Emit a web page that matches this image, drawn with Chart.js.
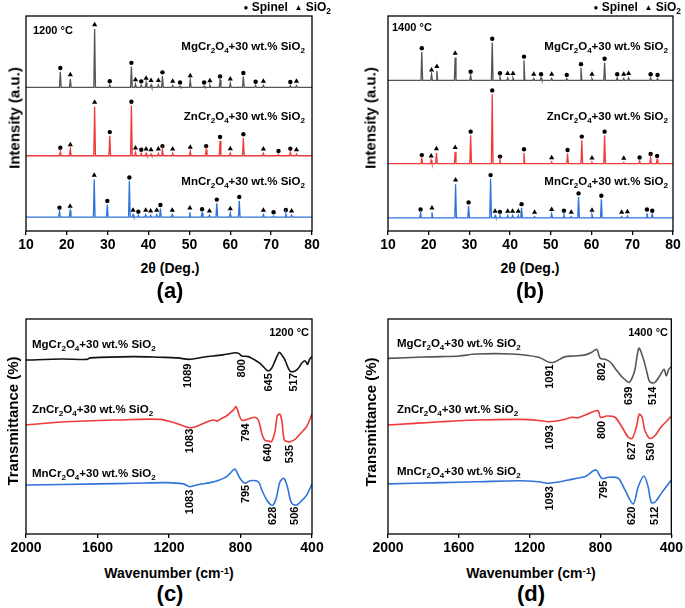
<!DOCTYPE html>
<html>
<head>
<meta charset="utf-8">
<script src="https://cdn.jsdelivr.net/npm/chart.js@4"></script>
<style>
  body { margin: 0; background: #fff; }
  #wrap { position: relative; width: 685px; height: 608px; overflow: hidden; font-family: "Liberation Sans", Arial, sans-serif; }
  canvas { position: absolute; }
  .t { position: absolute; font-weight: bold; font-size: 11.5px; white-space: nowrap; transform: translate(0, -50%); color: #000; line-height: 1; }
  .r { transform: translate(-100%, -50%); }
  .c { transform: translate(-50%, -50%); }
  .v { transform: translate(-50%, -50%) rotate(-90deg); font-size: 15px; }
  .ax { font-size: 14px; }
  .pn { font-size: 22px; }
  sub { font-size: 0.7em; vertical-align: -0.3em; line-height: 0; }
  sup { font-size: 0.7em; vertical-align: 0.45em; line-height: 0; }
  .mk { font-size: 8px; vertical-align: 0.15em; }
</style>
</head>
<body>
<div id="wrap">
  <canvas id="xrd1200" width="340" height="256" style="left:0;top:0"></canvas>
  <canvas id="xrd1400" width="345" height="256" style="left:340px;top:0"></canvas>
  <canvas id="ftir1200" width="340" height="256" style="left:0;top:300px"></canvas>
  <canvas id="ftir1400" width="345" height="256" style="left:340px;top:300px"></canvas>

  <!-- panel (a) -->
  <div class="t r" style="left:331px;top:7px;font-size:12px"><span class="mk">●</span> Spinel&nbsp;&nbsp;<span class="mk">▲</span> SiO<sub>2</sub></div>
  <div class="t" style="left:33px;top:30px;font-size:11px">1200 °C</div>
  <div class="t r" style="left:305px;top:47px">MgCr<sub>2</sub>O<sub>4</sub>+30 wt.% SiO<sub>2</sub></div>
  <div class="t r" style="left:305px;top:117px">ZnCr<sub>2</sub>O<sub>4</sub>+30 wt.% SiO<sub>2</sub></div>
  <div class="t r" style="left:305px;top:182px">MnCr<sub>2</sub>O<sub>4</sub>+30 wt.% SiO<sub>2</sub></div>
  <div class="t v" style="left:14px;top:118px">Intensity (a.u.)</div>
  <div class="t c ax" style="left:170px;top:268px">2θ (Deg.)</div>
  <div class="t c pn" style="left:170px;top:291px">(a)</div>

  <!-- panel (b) -->
  <div class="t r" style="left:681px;top:7px;font-size:12px"><span class="mk">●</span> Spinel&nbsp;&nbsp;<span class="mk">▲</span> SiO<sub>2</sub></div>
  <div class="t" style="left:392px;top:27px;font-size:11px">1400 °C</div>
  <div class="t r" style="left:668px;top:47px">MgCr<sub>2</sub>O<sub>4</sub>+30 wt.% SiO<sub>2</sub></div>
  <div class="t r" style="left:668px;top:117px">ZnCr<sub>2</sub>O<sub>4</sub>+30 wt.% SiO<sub>2</sub></div>
  <div class="t r" style="left:668px;top:182px">MnCr<sub>2</sub>O<sub>4</sub>+30 wt.% SiO<sub>2</sub></div>
  <div class="t v" style="left:370px;top:118px">Intensity (a.u.)</div>
  <div class="t c ax" style="left:530px;top:268px">2θ (Deg.)</div>
  <div class="t c pn" style="left:530px;top:291px">(b)</div>

  <!-- panel (c) -->
  <div class="t r" style="left:309px;top:332px;font-size:11px">1200 °C</div>
  <div class="t" style="left:32px;top:345px">MgCr<sub>2</sub>O<sub>4</sub>+30 wt.% SiO<sub>2</sub></div>
  <div class="t" style="left:32px;top:410px">ZnCr<sub>2</sub>O<sub>4</sub>+30 wt.% SiO<sub>2</sub></div>
  <div class="t" style="left:32px;top:474px">MnCr<sub>2</sub>O<sub>4</sub>+30 wt.% SiO<sub>2</sub></div>
  <div class="t v" style="left:12px;top:421px">Transmittance (%)</div>
  <div class="t c ax" style="left:169px;top:573px">Wavenumber (cm<sup>-1</sup>)</div>
  <div class="t c pn" style="left:170px;top:594px">(c)</div>

  <!-- panel (d) -->
  <div class="t r" style="left:668px;top:332px;font-size:11px">1400 °C</div>
  <div class="t" style="left:397px;top:344px">MgCr<sub>2</sub>O<sub>4</sub>+30 wt.% SiO<sub>2</sub></div>
  <div class="t" style="left:397px;top:410px">ZnCr<sub>2</sub>O<sub>4</sub>+30 wt.% SiO<sub>2</sub></div>
  <div class="t" style="left:397px;top:472px">MnCr<sub>2</sub>O<sub>4</sub>+30 wt.% SiO<sub>2</sub></div>
  <div class="t v" style="left:370px;top:422px">Transmittance (%)</div>
  <div class="t c ax" style="left:531px;top:573px">Wavenumber (cm<sup>-1</sup>)</div>
  <div class="t c pn" style="left:531px;top:594px">(d)</div>
</div>

<script>
// XRD peaks: [2theta, height above baseline, phase]  S = spinel, Q = SiO2
const xrd1200Mg = [[18.4,7.3,'S'],[20.85,3.9,'Q'],[26.8,27.1,'Q'],[30.5,1.2,'S'],[35.8,9.7,'S'],[36.8,1.6,'Q'],[38.2,1.1,'S'],[39.4,2.2,'Q'],[40.6,1.2,'Q'],[42.4,1.2,'Q'],[43.4,5.3,'S'],[45.9,0.9,'Q'],[47.7,0.6,'S'],[50.2,3.4,'Q'],[53.6,0.6,'S'],[55.0,1.1,'Q'],[57.5,3.4,'S'],[60.0,1.9,'Q'],[63.2,5.0,'S'],[66.2,0.9,'S'],[68.1,0.9,'Q'],[74.7,0.8,'S'],[76.2,0.8,'Q']];
const xrd1200Zn = [[18.4,2.0,'S'],[20.85,3.1,'Q'],[26.8,22.9,'Q'],[30.5,9.3,'S'],[35.8,23.4,'S'],[36.8,1.6,'Q'],[38.2,1.1,'S'],[39.4,1.1,'Q'],[40.6,0.8,'Q'],[42.4,1.1,'Q'],[43.4,2.8,'S'],[45.9,1.1,'Q'],[50.2,2.0,'Q'],[54.1,2.8,'S'],[57.5,7.0,'S'],[60.0,1.2,'Q'],[63.2,8.3,'S'],[68.1,1.1,'Q'],[71.8,0.5,'S'],[74.7,1.6,'S'],[76.2,0.8,'Q']];
const xrd1200Mn = [[18.2,2.6,'S'],[20.8,3.0,'Q'],[26.7,17.4,'Q'],[29.9,5.8,'S'],[35.3,16.7,'S'],[36.2,1.1,'Q'],[37.5,0.8,'S'],[39.3,1.1,'Q'],[40.5,0.8,'Q'],[42.0,1.1,'Q'],[42.9,3.9,'S'],[45.8,1.1,'Q'],[50.1,2.2,'Q'],[53.1,1.9,'S'],[54.9,0.8,'Q'],[56.7,6.4,'S'],[60.0,1.9,'Q'],[62.2,7.6,'S'],[68.1,1.1,'Q'],[70.6,0.5,'S'],[73.6,1.6,'S'],[75.0,0.8,'Q']];

const xrd1400Mg = [[18.3,13.2,'S'],[20.7,2.8,'Q'],[22.0,4.4,'Q'],[26.5,10.6,'Q'],[30.3,2.3,'S'],[35.6,17.6,'S'],[37.5,1.6,'S'],[39.4,1.1,'Q'],[40.7,1.1,'Q'],[43.4,9.3,'S'],[45.8,0.8,'Q'],[47.6,1.1,'S'],[50.2,0.8,'Q'],[53.9,0.8,'S'],[57.4,5.8,'S'],[60.1,0.8,'Q'],[63.2,8.3,'S'],[66.3,1.1,'S'],[67.9,0.8,'Q'],[69.1,1.1,'Q'],[74.5,1.1,'S'],[76.2,0.8,'S']];
const xrd1400Zn = [[18.3,2.3,'S'],[20.6,1.6,'Q'],[21.9,5.0,'Q'],[26.5,5.5,'Q'],[30.3,13.2,'S'],[35.6,32.4,'S'],[37.5,1.6,'S'],[43.4,5.0,'S'],[50.2,0.8,'Q'],[54.1,4.7,'S'],[57.6,10.9,'S'],[60.1,0.6,'Q'],[63.2,13.2,'S'],[67.9,0.5,'Q'],[71.8,1.2,'S'],[74.5,2.8,'S'],[76.1,1.9,'S']];
const xrd1400Mn = [[18.0,2.2,'S'],[20.8,2.6,'Q'],[26.6,15.6,'Q'],[29.8,5.5,'S'],[35.2,18.2,'S'],[36.3,1.1,'Q'],[37.5,1.1,'S'],[39.4,1.1,'Q'],[40.6,1.1,'Q'],[42.0,1.1,'Q'],[42.8,4.7,'S'],[46.0,0.6,'Q'],[50.2,1.9,'Q'],[53.2,1.6,'S'],[55.0,0.6,'Q'],[56.8,9.7,'S'],[60.1,1.6,'Q'],[62.4,8.6,'S'],[67.4,0.6,'Q'],[68.8,0.9,'Q'],[73.6,2.2,'S'],[74.9,1.6,'S']];

// FTIR spectra: [wavenumber, transmittance (offset, a.u.)]
const ftir1200Mg = [[2000,80.9],[1800,81.4],[1660,81.2],[1640,81.9],[1400,82.5],[1250,82.2],[1150,81.9],[1089,81.2],[1000,82.3],[900,83.3],[830,84.3],[810,84.0],[793,82.8],[756,82.5],[720,80.9],[691,79.4],[665,77.2],[645,75.8],[625,77.2],[605,80.9],[583,84.5],[565,82.8],[551,80.9],[530,76.7],[517,75.5],[495,75.8],[475,77.2],[458,79.4],[440,80.6],[430,79.5],[424,78.9],[413,81.3],[400,82.5]];
const ftir1200Zn = [[2000,50.7],[1800,52.1],[1500,53.0],[1250,53.3],[1150,51.2],[1083,49.4],[1027,50.7],[971,52.7],[950,53.0],[930,52.5],[915,53.3],[877,55.0],[840,57.7],[825,59.2],[803,54.3],[790,52.8],[775,53.0],[740,54.0],[719,54.3],[700,53.0],[681,46.8],[663,43.6],[640,43.2],[626,43.0],[607,47.7],[594,55.0],[579,55.7],[568,52.2],[555,43.7],[535,42.9],[523,42.9],[495,44.0],[467,46.5],[430,50.0],[400,55.8]];
const ftir1200Mn = [[2000,22.8],[1600,23.3],[1400,23.6],[1213,23.9],[1120,23.3],[1083,22.0],[1040,22.9],[971,23.9],[930,24.8],[877,26.7],[840,29.8],[829,30.1],[803,25.9],[775,23.6],[747,24.8],[700,24.3],[681,20.5],[653,15.8],[630,13.5],[617,13.5],[600,16.6],[579,24.3],[557,25.9],[538,22.0],[514,14.3],[486,13.5],[458,15.5],[430,18.1],[400,23.3]];

const ftir1400Mg = [[2000,81.7],[1800,82.3],[1700,82.5],[1600,82.8],[1500,83.7],[1300,83.7],[1150,82.2],[1091,79.9],[1060,80.0],[1000,82.5],[950,82.8],[886,83.3],[850,84.5],[821,85.9],[802,81.7],[774,81.3],[745,80.0],[718,77.1],[680,73.2],[639,70.5],[622,72.5],[606,76.3],[583,86.4],[559,81.7],[540,76.0],[522,70.8],[494,70.4],[466,73.5],[441,76.6],[428,73.5],[415,76.6],[400,77.8]];
const ftir1400Zn = [[2000,50.7],[1700,52.2],[1500,53.0],[1250,53.3],[1150,52.8],[1093,52.2],[1017,53.0],[961,54.3],[930,54.0],[886,55.3],[815,57.4],[800,54.3],[765,54.9],[718,54.3],[680,49.9],[643,45.0],[621,44.5],[597,49.9],[581,55.7],[565,54.3],[550,48.4],[522,44.5],[494,45.6],[457,49.9],[429,52.2],[400,54.9]];
const ftir1400Mn = [[2000,23.3],[1700,23.9],[1500,24.3],[1259,24.8],[1150,24.3],[1093,23.6],[979,25.1],[940,25.8],[886,26.7],[826,29.8],[793,25.9],[755,26.4],[699,25.9],[662,20.5],[615,14.0],[587,22.0],[555,27.0],[531,22.0],[513,14.6],[490,15.0],[457,18.9],[400,25.1]];

// band labels: [wavenumber, y, text]
const bands1200 = [[1092,73.6,'1089'],[790,77.1,'800'],[639,70.5,'645'],[501,70.5,'517'],
                   [1083,43.3,'1083'],[771,47.2,'794'],[644,37.9,'640'],[523,37.2,'535'],
                   [1083,14.9,'1083'],[771,18.6,'795'],[617,8.5,'628'],[493,8.5,'506']];
const bands1400 = [[1087,73.2,'1091'],[793,75.5,'802'],[637,64.3,'639'],[503,64.3,'514'],
                   [1087,44.9,'1093'],[793,48.4,'800'],[621,38.7,'627'],[513,38.3,'530'],
                   [1087,16.6,'1093'],[783,20.5,'795'],[621,8.5,'620'],[494,8.5,'512']];

const GREY = '#555555', RED = '#ef3a3a', BLUE = '#2f73d9';
const FONT = '"Liberation Sans", Arial, sans-serif';

const frame = {
    id: 'frame',
    afterDatasetsDraw(chart) {
        const a = chart.chartArea, c = chart.ctx;
        c.save();
        c.strokeStyle = '#000';
        c.lineWidth = 1.3;
        c.strokeRect(a.left, a.top, a.right - a.left, a.bottom - a.top);
        c.restore();
    }
};

function bandText(items) {
    return {
        id: 'bandText',
        afterDatasetsDraw(chart) {
            const c = chart.ctx, xs = chart.scales.x, ys = chart.scales.y;
            c.save();
            c.font = 'bold 11px ' + FONT;
            c.fillStyle = '#000';
            c.textAlign = 'center';
            c.textBaseline = 'middle';
            items.forEach(function (b) {
                c.save();
                c.translate(xs.getPixelForValue(b[0]), ys.getPixelForValue(b[1]));
                c.rotate(-Math.PI / 2);
                c.fillText(b[2], 0, 0);
                c.restore();
            });
            c.restore();
        }
    };
}

// line through the peaks of one pattern, sitting on its own baseline
function pattern(peaks, base, color) {
    let pts = [{x: 10, y: base}];
    peaks.forEach(function (p) {
        pts.push({x: p[0] - 0.2, y: base}, {x: p[0], y: base + p[1]}, {x: p[0] + 0.2, y: base});
    });
    pts.push({x: 80, y: base});
    return {data: pts, showLine: true, borderColor: color, borderWidth: 1.3, pointRadius: 0, tension: 0};
}

function markers(peaks, base, phase) {
    return {
        data: peaks.filter(p => p[2] === phase).map(p => ({x: p[0], y: base + p[1] + (phase === 'S' ? 1.7 : 2.0)})),
        pointStyle: phase === 'S' ? 'circle' : 'triangle',
        pointRadius: phase === 'S' ? 2.2 : 3,
        backgroundColor: '#000', borderColor: '#000', borderWidth: 0
    };
}

function spectrum(rows, color) {
    return {
        data: rows.map(r => ({x: r[0], y: r[1]})),
        showLine: true, borderColor: color, borderWidth: 1.6, pointRadius: 0, tension: 0.3
    };
}

function xAxis(min, max, step, reverse) {
    return {
        type: 'linear', min: min, max: max, reverse: reverse,
        afterFit: function (scale) { scale.height = 20; },
        ticks: {
            stepSize: step, color: '#000', padding: 2,
            font: {family: FONT, size: 14, weight: 'bold'},
            callback: function (value) { return String(value); }
        },
        grid: {drawOnChartArea: false, tickLength: 4, color: '#000', lineWidth: 1.3},
        border: {display: false}
    };
}

function makeChart(id, datasets, x, pad, extra) {
    let plugins = [frame];
    if (extra) plugins.push(extra);
    return new Chart(document.getElementById(id).getContext('2d'), {
        type: 'scatter',
        data: {datasets: datasets},
        options: {
            responsive: false,
            animation: false,
            devicePixelRatio: 1,
            layout: {padding: pad},
            scales: {
                x: x,
                y: {min: 0, max: 100, display: false}
            },
            plugins: {legend: {display: false}, tooltip: {enabled: false}}
        },
        plugins: plugins
    });
}

function xrdSets(mg, zn, mn, bases) {
    let sets = [pattern(mg, bases[0], GREY), pattern(zn, bases[1], RED), pattern(mn, bases[2], BLUE)];
    [[mg, bases[0]], [zn, bases[1]], [mn, bases[2]]].forEach(function (s) {
        sets.push(markers(s[0], s[1], 'S'), markers(s[0], s[1], 'Q'));
    });
    return sets;
}

// Start XRD 1200
makeChart('xrd1200', xrdSets(xrd1200Mg, xrd1200Zn, xrd1200Mn, [66.8, 35, 6.5]),
    xAxis(10, 80, 10, false), {left: 26, top: 16, right: 28, bottom: 5});

// Start XRD 1400
makeChart('xrd1400', xrdSets(xrd1400Mg, xrd1400Zn, xrd1400Mn, [70.1, 31.3, 6.1]),
    xAxis(10, 80, 10, false), {left: 48, top: 16, right: 12, bottom: 5});

// Start FTIR 1200
makeChart('ftir1200', [spectrum(ftir1200Mg, '#111111'), spectrum(ftir1200Zn, RED), spectrum(ftir1200Mn, BLUE)],
    xAxis(400, 2000, 400, true), {left: 26, top: 19, right: 28, bottom: 2}, bandText(bands1200));

// Start FTIR 1400
makeChart('ftir1400', [spectrum(ftir1400Mg, GREY), spectrum(ftir1400Zn, RED), spectrum(ftir1400Mn, BLUE)],
    xAxis(400, 2000, 400, true), {left: 48, top: 19, right: 12, bottom: 2}, bandText(bands1400));
</script>
</body>
</html>
